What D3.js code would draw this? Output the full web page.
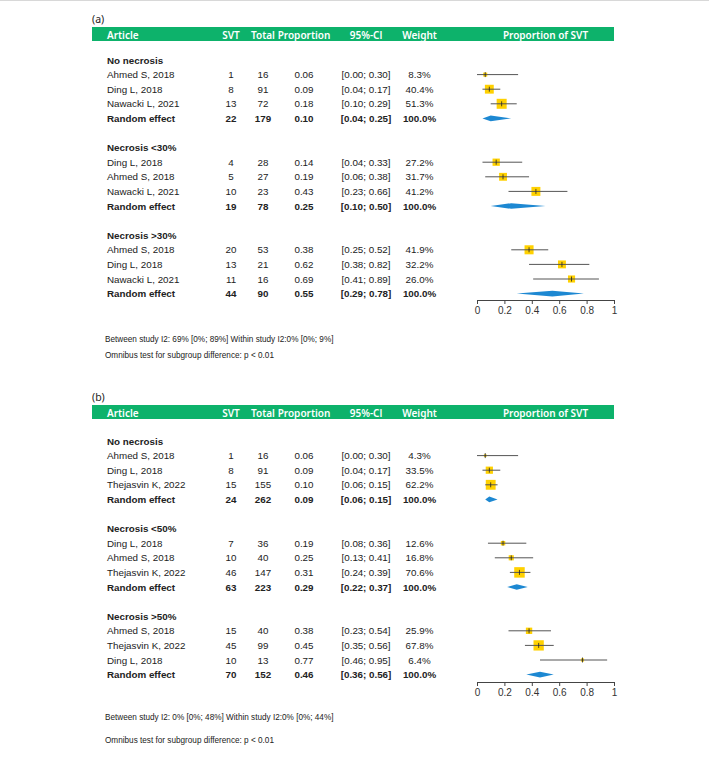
<!DOCTYPE html>
<html>
<head>
<meta charset="utf-8">
<script src="https://cdn.jsdelivr.net/npm/d3@7"></script>
<style>
  body { margin: 0; background: #fff; }
  svg { display: block; }
  .hdr { font-family: "Noto Sans", sans-serif; font-weight: 600; font-size: 10px; fill: #fff; }
  .cell { font-family: "Liberation Sans", Arial, sans-serif; font-size: 9.8px; fill: #222; }
  .bold { font-weight: bold; }
  .note { font-family: "Liberation Sans", Arial, sans-serif; font-size: 8.2px; fill: #222; }
  .tick text { font-family: "Liberation Sans", Arial, sans-serif; font-size: 10px; fill: #333; }
</style>
</head>
<body>
<div class="vis-forest"></div>
<script>
// ---- panel (a) ----
const groupsA = ["No necrosis", "Necrosis <30%", "Necrosis >30%"];
const articlesA = ["Ahmed S, 2018", "Ding L, 2018", "Nawacki L, 2021",
                   "Ding L, 2018", "Ahmed S, 2018", "Nawacki L, 2021",
                   "Ahmed S, 2018", "Ding L, 2018", "Nawacki L, 2021"];
const svtA = [1, 8, 13, 4, 5, 10, 20, 13, 11];
const totalA = [16, 91, 72, 28, 27, 23, 53, 21, 16];
const propA = [0.06, 0.09, 0.18, 0.14, 0.19, 0.43, 0.38, 0.62, 0.69];
const lowerA = [0.00, 0.04, 0.10, 0.04, 0.06, 0.23, 0.25, 0.38, 0.41];
const upperA = [0.30, 0.17, 0.29, 0.33, 0.38, 0.66, 0.52, 0.82, 0.89];
const weightA = [8.3, 40.4, 51.3, 27.2, 31.7, 41.2, 41.9, 32.2, 26.0];
const poolSvtA = [22, 19, 44];
const poolTotalA = [179, 78, 90];
const poolPropA = [0.10, 0.25, 0.55];
const poolLowerA = [0.04, 0.10, 0.29];
const poolUpperA = [0.25, 0.50, 0.78];
const notesA = ["Between study I2: 69% [0%; 89%] Within study I2:0% [0%; 9%]",
                "Omnibus test for subgroup difference: p < 0.01"];

// ---- panel (b) ----
const groupsB = ["No necrosis", "Necrosis <50%", "Necrosis >50%"];
const articlesB = ["Ahmed S, 2018", "Ding L, 2018", "Thejasvin K, 2022",
                   "Ding L, 2018", "Ahmed S, 2018", "Thejasvin K, 2022",
                   "Ahmed S, 2018", "Thejasvin K, 2022", "Ding L, 2018"];
const svtB = [1, 8, 15, 7, 10, 46, 15, 45, 10];
const totalB = [16, 91, 155, 36, 40, 147, 40, 99, 13];
const propB = [0.06, 0.09, 0.10, 0.19, 0.25, 0.31, 0.38, 0.45, 0.77];
const lowerB = [0.00, 0.04, 0.06, 0.08, 0.13, 0.24, 0.23, 0.35, 0.46];
const upperB = [0.30, 0.17, 0.15, 0.36, 0.41, 0.39, 0.54, 0.56, 0.95];
const weightB = [4.3, 33.5, 62.2, 12.6, 16.8, 70.6, 25.9, 67.8, 6.4];
const poolSvtB = [24, 63, 70];
const poolTotalB = [262, 223, 152];
const poolPropB = [0.09, 0.29, 0.46];
const poolLowerB = [0.06, 0.22, 0.36];
const poolUpperB = [0.15, 0.37, 0.56];
const notesB = ["Between study I2: 0% [0%; 48%] Within study I2:0% [0%; 44%]",
                "Omnibus test for subgroup difference: p < 0.01"];

const headers = ["Article", "SVT", "Total", "Proportion", "95%-Cl", "Weight", "Proportion of SVT"];
const axisTicks = [0, 0.2, 0.4, 0.6, 0.8, 1];

const width = 709, height = 760;
const green = "#0db26b", gold = "#ffd100", blue = "#1d88d2";

const svg = d3.select('.vis-forest')
    .append('svg')
    .attr('width', width)
    .attr('height', height);

svg.append("line")
    .attr("x1", 0).attr("x2", width)
    .attr("y1", 0.5).attr("y2", 0.5)
    .attr("stroke", "#d8d8d8");

// column centres
const col = {name: 107, svt: 231, total: 263, prop: 304, ci: 366, weight: 419.5};
const xScale = d3.scaleLinear().domain([0, 1]).range([477, 614]);
const fmt2 = d3.format(".2f");
const ciText = (lo, hi) => "[" + fmt2(lo) + "; " + fmt2(hi) + "]";

function drawPanel(p) {
    let g = svg.append("g");

    g.append("text")
        .attr("x", 92).attr("y", p.top + 19)
        .attr("dominant-baseline", "central")
        .style("font-family", "'Noto Sans', sans-serif")
        .style("font-size", "10.5px")
        .style("fill", "#222")
        .text(p.label);

    // header bar
    g.append("rect")
        .attr("x", 92).attr("y", p.top + 27)
        .attr("width", 522).attr("height", 14)
        .attr("fill", green);
    const hx = [col.name, col.svt, col.total, col.prop, col.ci, col.weight, (xScale(0) + xScale(1)) / 2];
    headers.forEach(function(h, i) {
        g.append("text")
            .attr("class", "hdr")
            .attr("x", hx[i]).attr("y", p.top + 34.5)
            .attr("dominant-baseline", "central")
            .attr("text-anchor", i === 0 ? "start" : "middle")
            .text(h);
    });

    // rows: group title, 3 studies, pooled, blank
    const rowY = d3.scaleLinear().domain([0, 16]).range([p.rowTop, p.rowTop + 16 * 14.6]);
    const sizeScale = d3.scaleSqrt().domain([0, d3.max(p.weight)]).range([0, p.maxBox]);

    p.groups.forEach(function(grp, gi) {
        const base = gi * 6;
        g.append("text").attr("class", "cell bold")
            .attr("x", col.name).attr("y", rowY(base))
            .attr("dominant-baseline", "central")
            .text(grp);

        for (let k = 0; k < 3; k++) {
            const i = gi * 3 + k;
            const y = rowY(base + 1 + k);
            const cells = [[col.svt, p.svt[i]], [col.total, p.total[i]], [col.prop, fmt2(p.prop[i])],
                           [col.ci, ciText(p.lower[i], p.upper[i])], [col.weight, p.weight[i].toFixed(1) + "%"]];
            g.append("text").attr("class", "cell")
                .attr("x", col.name).attr("y", y)
                .attr("dominant-baseline", "central")
                .text(p.articles[i]);
            cells.forEach(function(c) {
                g.append("text").attr("class", "cell")
                    .attr("x", c[0]).attr("y", y)
                    .attr("dominant-baseline", "central")
                    .attr("text-anchor", "middle")
                    .text(c[1]);
            });

            const s = sizeScale(p.weight[i]);
            g.append("rect")
                .attr("x", xScale(p.prop[i]) - s / 2).attr("y", y - s / 2)
                .attr("width", s).attr("height", s)
                .attr("fill", gold);
            g.append("line")
                .attr("x1", xScale(p.lower[i])).attr("x2", xScale(p.upper[i]))
                .attr("y1", y).attr("y2", y)
                .attr("stroke", "#555").attr("stroke-width", 1);
            g.append("line")
                .attr("x1", xScale(p.prop[i])).attr("x2", xScale(p.prop[i]))
                .attr("y1", y - 2.5).attr("y2", y + 2.5)
                .attr("stroke", "#222").attr("stroke-width", 0.8);
        }

        const py = rowY(base + 4);
        const pcells = [[col.svt, p.poolSvt[gi]], [col.total, p.poolTotal[gi]], [col.prop, fmt2(p.poolProp[gi])],
                        [col.ci, ciText(p.poolLower[gi], p.poolUpper[gi])], [col.weight, "100.0%"]];
        g.append("text").attr("class", "cell bold")
            .attr("x", col.name).attr("y", py)
            .attr("dominant-baseline", "central")
            .text("Random effect");
        pcells.forEach(function(c) {
            g.append("text").attr("class", "cell bold")
                .attr("x", c[0]).attr("y", py)
                .attr("dominant-baseline", "central")
                .attr("text-anchor", "middle")
                .text(c[1]);
        });
        const dh = 2.8;
        g.append("path")
            .attr("d", "M" + xScale(p.poolLower[gi]) + "," + py +
                       "L" + xScale(p.poolProp[gi]) + "," + (py - dh) +
                       "L" + xScale(p.poolUpper[gi]) + "," + py +
                       "L" + xScale(p.poolProp[gi]) + "," + (py + dh) + "Z")
            .attr("fill", blue);
    });

    // x axis
    const ax = g.append("g")
        .attr("transform", "translate(0," + p.axisY + ")")
        .call(d3.axisBottom(xScale).tickValues(axisTicks).tickSize(4).tickPadding(3)
              .tickFormat(d3.format("~g")));
    ax.select(".domain").attr("stroke", "#444");
    ax.selectAll(".tick line").attr("stroke", "#444");

    p.notes.forEach(function(n, i) {
        g.append("text").attr("class", "note")
            .attr("x", 105).attr("y", p.noteY[i])
            .attr("dominant-baseline", "central")
            .text(n);
    });
}

drawPanel({
    label: "(a)", top: 0, rowTop: 60, axisY: 300, noteY: [339, 355], maxBox: 10,
    groups: groupsA, articles: articlesA, svt: svtA, total: totalA, prop: propA,
    lower: lowerA, upper: upperA, weight: weightA,
    poolSvt: poolSvtA, poolTotal: poolTotalA, poolProp: poolPropA,
    poolLower: poolLowerA, poolUpper: poolUpperA, notes: notesA
});

drawPanel({
    label: "(b)", top: 378, rowTop: 441, axisY: 682, noteY: [717, 740], maxBox: 10.5,
    groups: groupsB, articles: articlesB, svt: svtB, total: totalB, prop: propB,
    lower: lowerB, upper: upperB, weight: weightB,
    poolSvt: poolSvtB, poolTotal: poolTotalB, poolProp: poolPropB,
    poolLower: poolLowerB, poolUpper: poolUpperB, notes: notesB
});
</script>
</body>
</html>
